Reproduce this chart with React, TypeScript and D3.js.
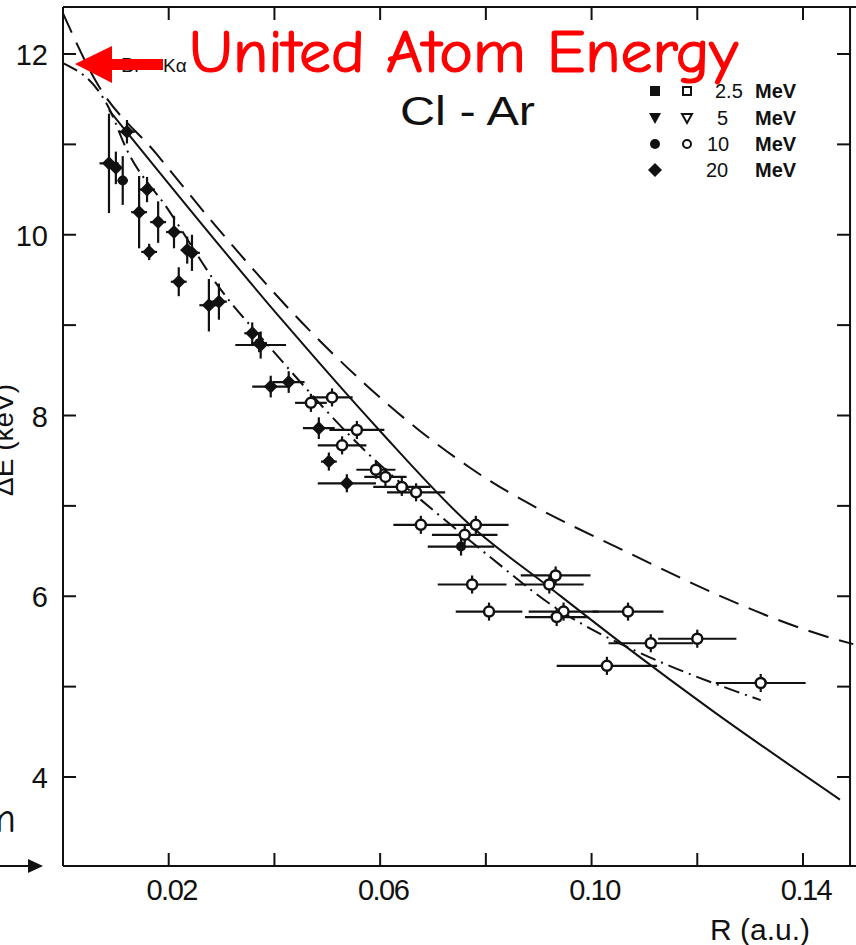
import React, { useEffect, useRef } from 'react';
import * as d3 from 'd3';

// each point: [R (a.u.), dE (keV), error in R, error in dE]
const diamonds20MeV = [
    [0.0121, 11.14, 0.0015, 0.13],
    [0.0087, 10.79, 0.0018, 0.55],
    [0.0100, 10.74, 0.0012, 0.18],
    [0.0159, 10.50, 0.0015, 0.14],
    [0.0144, 10.25, 0.0015, 0.40],
    [0.0163, 9.81, 0.0015, 0.09],
    [0.0180, 10.14, 0.0015, 0.23],
    [0.0210, 10.03, 0.0015, 0.18],
    [0.0244, 9.80, 0.0015, 0.20],
    [0.0235, 9.83, 0.0012, 0.15],
    [0.0219, 9.48, 0.0015, 0.16],
    [0.0276, 9.22, 0.0018, 0.29],
    [0.0295, 9.26, 0.0015, 0.20],
    [0.0358, 8.91, 0.0015, 0.12],
    [0.0374, 8.78, 0.0048, 0.15],
    [0.0393, 8.32, 0.0035, 0.12],
    [0.0427, 8.37, 0.0030, 0.12],
    [0.0484, 7.86, 0.0030, 0.12],
    [0.0503, 7.49, 0.0015, 0.10],
    [0.0537, 7.25, 0.0055, 0.10],
];

const filledCircles10MeV = [
    [0.0113, 10.60, 0.0010, 0.27],
    [0.0371, 8.80, 0.0015, 0.10],
    [0.0753, 6.55, 0.0063, 0.10],
];

const openCircles10MeV = [
    [0.0469, 8.14, 0.0030, 0.10],
    [0.0509, 8.20, 0.0039, 0.10],
    [0.0556, 7.84, 0.0052, 0.10],
    [0.0528, 7.67, 0.0046, 0.10],
    [0.0592, 7.40, 0.0037, 0.10],
    [0.0610, 7.32, 0.0040, 0.10],
    [0.0641, 7.21, 0.0054, 0.10],
    [0.0668, 7.15, 0.0055, 0.10],
    [0.0677, 6.79, 0.0052, 0.10],
    [0.0781, 6.79, 0.0062, 0.10],
    [0.0760, 6.68, 0.0062, 0.10],
    [0.0774, 6.13, 0.0065, 0.10],
    [0.0806, 5.83, 0.0063, 0.10],
    [0.0932, 6.23, 0.0066, 0.10],
    [0.0920, 6.13, 0.0065, 0.10],
    [0.0947, 5.83, 0.0066, 0.10],
    [0.0934, 5.77, 0.0060, 0.10],
    [0.1069, 5.83, 0.0067, 0.10],
    [0.1112, 5.48, 0.0080, 0.10],
    [0.1200, 5.53, 0.0074, 0.10],
    [0.1029, 5.23, 0.0095, 0.10],
    [0.1320, 5.04, 0.0085, 0.10],
];

// theory curves
const dashedR = [0, 0.0062, 0.0176, 0.029, 0.0465, 0.0673, 0.0768, 0.107, 0.1464, 0.1495];
const dashedE = [12.45, 11.70, 10.90, 10.09, 8.95, 7.84, 7.43, 6.48, 5.52, 5.47];

const solidR = [0.0087, 0.0414, 0.0598, 0.0768, 0.092, 0.107, 0.1227, 0.147];
const solidE = [11.38, 9.06, 7.84, 6.80, 6.10, 5.42, 4.74, 3.75];

const dashDotR = [0, 0.0087, 0.012, 0.020, 0.0295, 0.0395, 0.0584, 0.0705, 0.0811, 0.0925, 0.1108, 0.116, 0.132];
const dashDotE = [11.90, 11.40, 10.95, 10.27, 9.42, 8.73, 7.54, 6.93, 6.42, 5.90, 5.33, 5.20, 4.85];

const xTicks = [0.02, 0.04, 0.06, 0.08, 0.10, 0.12, 0.14];
const xTickLabels = ['0.02', '', '0.06', '', '0.10', '', '0.14'];
const yTicks = [4, 5, 6, 7, 8, 9, 10, 11, 12];
const yTickLabels = ['4', '', '6', '', '8', '', '10', '', '12'];
const legendEnergies = ['2.5', '5', '10', '20'];

const FONT = '"Liberation Sans", Arial, sans-serif';
const HAND = '"Comic Sans MS", "Comic Neue", "Noto Sans", sans-serif';

export default function App() {
    const svgRef = useRef<SVGSVGElement>(null);

    useEffect(() => {
        const svg = d3.select(svgRef.current);
        svg.selectAll('*').remove();

        const x = d3.scaleLinear().domain([0, 0.14]).range([63, 803]);
        const y = d3.scaleLinear().domain([4, 12]).range([777, 54]);
        const top = 7;
        const bottom = 866;
        const left = x(0);
        const right = x(0.1489);

        // frame
        const frame = svg.append('g').attr('stroke', '#111').attr('stroke-width', 2).attr('fill', 'none');
        frame.append('line').attr('x1', left).attr('x2', left).attr('y1', top).attr('y2', bottom);
        frame.append('line').attr('x1', left).attr('x2', 856).attr('y1', bottom).attr('y2', bottom);
        frame.append('line').attr('x1', left).attr('x2', 856).attr('y1', top).attr('y2', top);
        frame.append('line').attr('x1', right).attr('x2', right).attr('y1', top).attr('y2', bottom);

        xTicks.forEach((t, i) => {
            frame.append('line').attr('x1', x(t)).attr('x2', x(t)).attr('y1', bottom).attr('y2', bottom - 13);
            frame.append('line').attr('x1', x(t)).attr('x2', x(t)).attr('y1', top).attr('y2', top + 13);
            if (xTickLabels[i]) {
                svg.append('text')
                    .attr('x', x(t) + 3)
                    .attr('y', 900)
                    .attr('text-anchor', 'middle')
                    .attr('font-family', FONT)
                    .attr('font-size', 29)
                    .attr('letter-spacing', -1.5)
                    .attr('fill', '#111')
                    .text(xTickLabels[i]);
            }
        });

        yTicks.forEach((t, i) => {
            frame.append('line').attr('x1', left).attr('x2', left + 13).attr('y1', y(t)).attr('y2', y(t));
            frame.append('line').attr('x1', right).attr('x2', right - 13).attr('y1', y(t)).attr('y2', y(t));
            if (yTickLabels[i]) {
                svg.append('text')
                    .attr('x', 48)
                    .attr('y', y(t) + 11)
                    .attr('text-anchor', 'end')
                    .attr('font-family', FONT)
                    .attr('font-size', 29)
                    .attr('fill', '#111')
                    .text(yTickLabels[i]);
            }
        });

        svg.append('text')
            .attr('x', 760)
            .attr('y', 940)
            .attr('text-anchor', 'middle')
            .attr('font-family', FONT)
            .attr('font-size', 30)
            .attr('fill', '#111')
            .text('R (a.u.)');

        svg.append('text')
            .attr('transform', 'translate(13, 440) rotate(-90)')
            .attr('text-anchor', 'middle')
            .attr('font-family', FONT)
            .attr('font-size', 28)
            .attr('fill', '#111')
            .text('\u0394E (keV)');

        // theory curves
        const line = d3.line<[number, number]>()
            .x(d => x(d[0]))
            .y(d => y(d[1]))
            .curve(d3.curveMonotoneX);

        const zip = (rs: number[], es: number[]) => rs.map((r, i) => [r, es[i]] as [number, number]);

        svg.append('path')
            .datum(zip(dashedR, dashedE))
            .attr('fill', 'none')
            .attr('stroke', '#111')
            .attr('stroke-width', 2)
            .attr('stroke-dasharray', '21,11')
            .attr('d', line);

        svg.append('path')
            .datum(zip(solidR, solidE))
            .attr('fill', 'none')
            .attr('stroke', '#111')
            .attr('stroke-width', 2)
            .attr('d', line);

        svg.append('path')
            .datum(zip(dashDotR, dashDotE))
            .attr('fill', 'none')
            .attr('stroke', '#111')
            .attr('stroke-width', 2)
            .attr('stroke-dasharray', '16,6,2,6')
            .attr('d', line);

        // error bars
        const allPoints = [...diamonds20MeV, ...filledCircles10MeV, ...openCircles10MeV];
        const bars = svg.append('g').attr('stroke', '#111').attr('stroke-width', 2.2);
        allPoints.forEach(p => {
            bars.append('line')
                .attr('x1', x(p[0] - p[2])).attr('x2', x(p[0] + p[2]))
                .attr('y1', y(p[1])).attr('y2', y(p[1]));
            bars.append('line')
                .attr('x1', x(p[0])).attr('x2', x(p[0]))
                .attr('y1', y(p[1] - p[3])).attr('y2', y(p[1] + p[3]));
        });

        const diamondPath = (s: number) => `M0,${-s}L${s},0L0,${s}L${-s},0Z`;
        svg.selectAll('.dia')
            .data(diamonds20MeV)
            .enter()
            .append('path')
            .attr('class', 'dia')
            .attr('transform', d => `translate(${x(d[0])},${y(d[1])})`)
            .attr('d', diamondPath(7))
            .attr('fill', '#111');

        svg.selectAll('.fc')
            .data(filledCircles10MeV)
            .enter()
            .append('circle')
            .attr('class', 'fc')
            .attr('cx', d => x(d[0]))
            .attr('cy', d => y(d[1]))
            .attr('r', 5)
            .attr('fill', '#111');

        svg.selectAll('.oc')
            .data(openCircles10MeV)
            .enter()
            .append('circle')
            .attr('class', 'oc')
            .attr('cx', d => x(d[0]))
            .attr('cy', d => y(d[1]))
            .attr('r', 5)
            .attr('fill', 'white')
            .attr('stroke', '#111')
            .attr('stroke-width', 2.5);

        // legend
        const rowY = [91, 118, 144, 170];
        const legend = svg.append('g').attr('font-family', FONT).attr('font-size', 20).attr('fill', '#111');
        const filledX = 655;
        const openX = 687;
        legend.append('rect').attr('x', filledX - 5).attr('y', rowY[0] - 5).attr('width', 10).attr('height', 10).attr('fill', '#111');
        legend.append('rect').attr('x', openX - 4).attr('y', rowY[0] - 4).attr('width', 8).attr('height', 8)
            .attr('fill', 'white').attr('stroke', '#111').attr('stroke-width', 2);
        legend.append('path').attr('d', `M${filledX - 6},${rowY[1] - 5}L${filledX + 6},${rowY[1] - 5}L${filledX},${rowY[1] + 6}Z`).attr('fill', '#111');
        legend.append('path').attr('d', `M${openX - 5},${rowY[1] - 4}L${openX + 5},${rowY[1] - 4}L${openX},${rowY[1] + 5}Z`)
            .attr('fill', 'white').attr('stroke', '#111').attr('stroke-width', 2);
        legend.append('circle').attr('cx', filledX).attr('cy', rowY[2]).attr('r', 5).attr('fill', '#111');
        legend.append('circle').attr('cx', openX).attr('cy', rowY[2]).attr('r', 4).attr('fill', 'white').attr('stroke', '#111').attr('stroke-width', 2);
        legend.append('path').attr('transform', `translate(${filledX},${rowY[3]})`).attr('d', diamondPath(7)).attr('fill', '#111');

        const numX = [715, 717, 707, 706];
        legendEnergies.forEach((e, i) => {
            legend.append('text').attr('x', numX[i]).attr('y', rowY[i] + 7).text(e);
            legend.append('text').attr('x', 755).attr('y', rowY[i] + 7).attr('font-weight', 'bold').text('MeV');
        });

        svg.append('text')
            .attr('x', 400)
            .attr('y', 125)
            .attr('font-family', FONT)
            .attr('font-size', 40)
            .attr('textLength', 135)
            .attr('lengthAdjust', 'spacingAndGlyphs')
            .attr('fill', '#111')
            .text('Cl - Ar');

        svg.append('text')
            .attr('x', 121)
            .attr('y', 72)
            .attr('font-family', FONT)
            .attr('font-size', 20)
            .attr('fill', '#111')
            .text('Br');
        svg.append('text')
            .attr('x', 163)
            .attr('y', 72)
            .attr('font-family', FONT)
            .attr('font-size', 19)
            .attr('fill', '#111')
            .text('K\u03b1');

        // red annotation
        svg.append('path')
            .attr('d', 'M75,64 L112,46 L112,59 L163,59 L163,70 L112,70 L112,83 Z')
            .attr('fill', '#ff0000');

        svg.append('text')
            .attr('x', 189)
            .attr('y', 72)
            .attr('font-family', HAND)
            .attr('font-size', 60)
            .attr('textLength', 549)
            .attr('lengthAdjust', 'spacingAndGlyphs')
            .attr('fill', '#ff0000')
            .attr('stroke', '#ff0000')
            .attr('stroke-width', 1.2)
            .text('United Atom Energy');

        // fragment at lower left
        svg.append('text')
            .attr('x', 16)
            .attr('y', 832)
            .attr('text-anchor', 'end')
            .attr('font-family', HAND)
            .attr('font-size', 42)
            .attr('fill', '#111')
            .text('m');

        svg.append('line')
            .attr('x1', 0).attr('x2', 30).attr('y1', bottom).attr('y2', bottom)
            .attr('stroke', '#111').attr('stroke-width', 2);
        svg.append('path')
            .attr('d', `M28,${bottom - 7} L43,${bottom} L28,${bottom + 7} Z`)
            .attr('fill', '#111');
    }, []);

    return (
        <svg
            ref={svgRef}
            width={856}
            height={945}
            style={{ position: 'absolute', left: 0, top: 0, background: 'white' }}
        />
    );
}
